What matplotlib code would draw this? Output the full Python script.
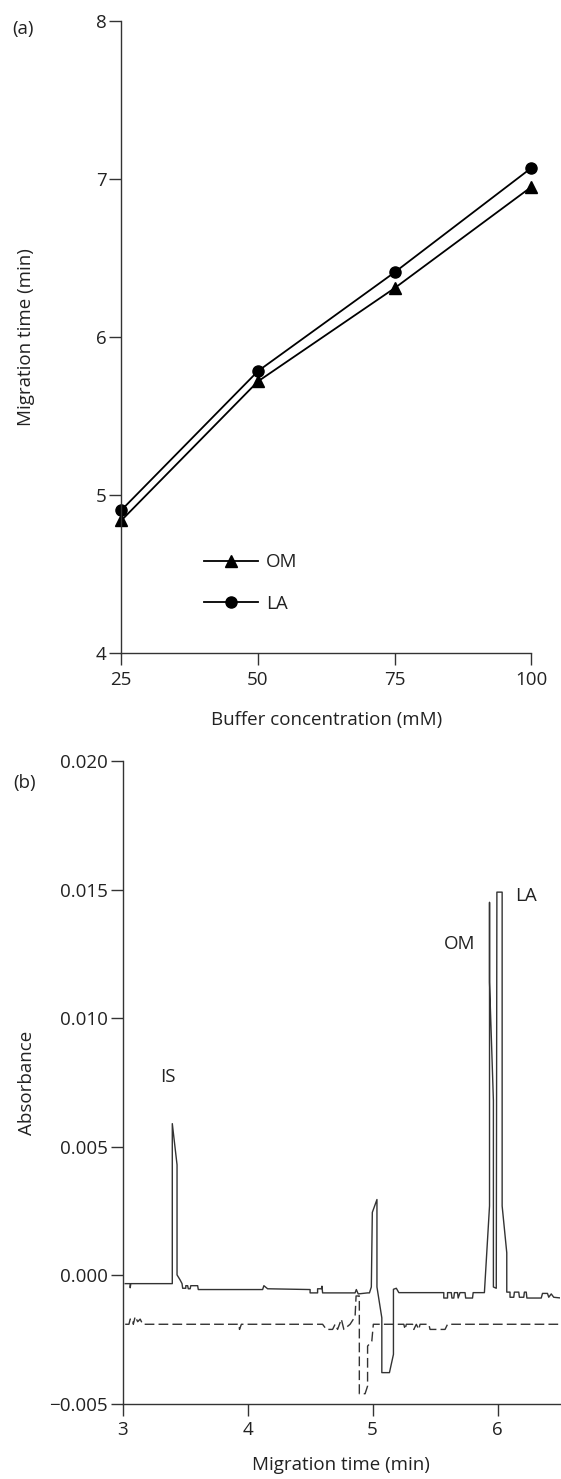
import matplotlib
matplotlib.use("Agg")
import matplotlib.pyplot as plt

plt.rcParams['font.family'] = ['Open Sans', 'DejaVu Sans']

# ---------------- Panel (a) data ----------------
conc = [25, 50, 75, 100]
om_time = [4.84, 5.72, 6.31, 6.95]
la_time = [4.905, 5.785, 6.41, 7.07]
a_xticks = [25, 50, 75, 100]
a_yticks = [4, 5, 6, 7, 8]

# ---------------- Panel (b) data ----------------
solid_t = [3.02, 3.06, 3.06, 3.065, 3.397, 3.397, 3.435, 3.435, 3.46, 3.475,
           3.48, 3.505, 3.505, 3.52, 3.525, 3.54, 3.545, 3.60, 3.605, 4.12,
           4.13, 4.16, 4.50, 4.50, 4.56, 4.56, 4.59, 4.595, 4.60, 4.86,
           4.87, 4.885, 4.96, 4.975, 4.99, 4.998, 5.035, 5.035, 5.074, 5.074,
           5.135, 5.167, 5.167, 5.19, 5.21, 5.57, 5.57, 5.60, 5.60, 5.63,
           5.635, 5.65, 5.655, 5.68, 5.685, 5.70, 5.74, 5.745, 5.80, 5.805,
           5.895, 5.936, 5.936, 5.936, 5.967, 5.967, 5.99, 5.995, 6.037, 6.037,
           6.074, 6.074, 6.10, 6.10, 6.13, 6.135, 6.17, 6.175, 6.21, 6.215,
           6.23, 6.235, 6.35, 6.36, 6.40, 6.41, 6.43, 6.45, 6.51]
solid_a = [-0.00032, -0.00032, -0.00048, -0.00032, -0.00032, 0.0059, 0.0043, 0.00002, -0.00018, -0.00032,
           -0.00050, -0.00050, -0.00040, -0.00040, -0.00052, -0.00052, -0.00040, -0.00040, -0.00055, -0.00055,
           -0.00040, -0.00052, -0.00055, -0.00068, -0.00068, -0.00052, -0.00052, -0.00042, -0.00068, -0.00068,
           -0.00055, -0.00072, -0.00068, -0.00068, -0.00045, 0.00245, 0.00295, -0.00045, -0.00165, -0.00378,
           -0.00378, -0.00307, -0.00054, -0.00050, -0.00067, -0.00067, -0.00088, -0.00088, -0.00067, -0.00067,
           -0.00088, -0.00088, -0.00067, -0.00067, -0.00088, -0.00067, -0.00067, -0.00088, -0.00088, -0.00067,
           -0.00067, 0.0027, 0.0145, 0.0114, 0.0068, -0.00045, -0.0005, 0.0149, 0.0149, 0.0027,
           0.00088, -0.00065, -0.00065, -0.00085, -0.00085, -0.00065, -0.00065, -0.00085, -0.00085, -0.00065,
           -0.00065, -0.00088, -0.00088, -0.00070, -0.00070, -0.00085, -0.00072, -0.00085, -0.00088]

dash_t = [3.02, 3.05, 3.06, 3.08, 3.085, 3.10, 3.12, 3.14, 3.16, 3.93,
          3.935, 3.95, 4.60, 4.63, 4.68, 4.70, 4.72, 4.75, 4.77, 4.82,
          4.86, 4.868, 4.894, 4.894, 4.94, 4.96, 4.96, 4.994, 5.006, 5.25,
          5.26, 5.27, 5.32, 5.33, 5.35, 5.37, 5.38, 5.45, 5.46, 5.58,
          5.60, 6.51]
dash_a = [-0.0019, -0.0019, -0.0017, -0.0017, -0.0019, -0.0016, -0.0018, -0.0017, -0.0019, -0.0019,
          -0.0021, -0.0019, -0.0019, -0.0021, -0.0021, -0.0019, -0.0021, -0.0017, -0.0021, -0.0019,
          -0.0016, -0.0008, -0.0008, -0.0046, -0.0046, -0.0043, -0.00275, -0.00255, -0.0019, -0.0019,
          -0.0021, -0.0019, -0.0019, -0.0021, -0.0019, -0.0021, -0.0019, -0.0019, -0.0021, -0.0021,
          -0.0019, -0.0019]

peak_labels = ["IS", "OM", "LA"]
peak_label_t = [3.36, 5.70, 6.23]
peak_label_a = [0.0077, 0.01287, 0.01475]
b_xticks = [3, 4, 5, 6]
b_yticks = [-0.005, 0.000, 0.005, 0.010, 0.015, 0.020]

TXT = '#222222'
AX = '#333333'
FS = 13.5

fig = plt.figure(figsize=(5.61, 14.79), dpi=100)

def style(ax):
    for s in ['top', 'right']:
        ax.spines[s].set_visible(False)
    for s in ['left', 'bottom']:
        ax.spines[s].set_color(AX)
        ax.spines[s].set_linewidth(1.0)
    ax.tick_params(direction='out', length=8.5, width=1.0, color=AX,
                   labelcolor=TXT, labelsize=FS, pad=2)
    ax.tick_params(axis='x', pad=4)

# ---- Panel (a)
ax1 = fig.add_axes([0.2162, 0.5583, 0.7308, 0.4275])
ax1.plot(conc, om_time, color='black', lw=1.3, marker='^', ms=8, clip_on=False, label='OM')
ax1.plot(conc, la_time, color='black', lw=1.3, marker='o', ms=8, clip_on=False, label='LA')
ax1.set_xlim(25, 100)
ax1.set_ylim(4, 8)
ax1.set_xticks(a_xticks)
ax1.set_yticks(a_yticks)
style(ax1)
ax1.set_xlabel('Buffer concentration (mM)', fontsize=FS, color=TXT, labelpad=16)
ax1.set_ylabel('Migration time (min)', fontsize=FS, color=TXT, labelpad=44)
leg = ax1.legend(loc='center left', bbox_to_anchor=(0.2017, 0.111), frameon=False,
                 borderaxespad=0, borderpad=0, handlelength=2.9, handletextpad=0.4,
                 labelspacing=1.25, fontsize=FS)
for t in leg.get_texts():
    t.set_color(TXT)
fig.text(23 / 561, 1 - 29 / 1479, '(a)', fontsize=FS, color=TXT, ha='center', va='center')

# ---- Panel (b)
ax2 = fig.add_axes([0.2187, 0.0507, 0.7795, 0.4348])
ax2.plot(solid_t, solid_a, color='#333333', lw=1.0)
ax2.plot(dash_t, dash_a, color='#333333', lw=1.0, linestyle=(0, (7, 3)))
for lab, tt, aa in zip(peak_labels, peak_label_t, peak_label_a):
    ax2.text(tt, aa, lab, fontsize=FS, color=TXT, ha='center', va='center')
ax2.set_xlim(3, 6.5)
ax2.set_ylim(-0.005, 0.020)
ax2.set_xticks(b_xticks)
ax2.set_yticks(b_yticks)
ax2.set_yticklabels(['\u22120.005', '0.000', '0.005', '0.010', '0.015', '0.020'])
style(ax2)
ax2.set_xlabel('Migration time (min)', fontsize=FS, color=TXT, labelpad=12)
ax2.set_ylabel('Absorbance', fontsize=FS, color=TXT, labelpad=10)
fig.text(25 / 561, 1 - 783 / 1479, '(b)', fontsize=FS, color=TXT, ha='center', va='center')

fig.savefig('out.png', dpi=100)
